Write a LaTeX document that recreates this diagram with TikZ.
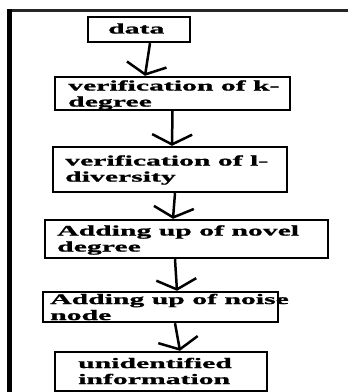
\documentclass[tikz,border=0pt]{standalone}
\usepackage{fontspec}
\usetikzlibrary{arrows.meta}
\newfontfamily\bx[FakeStretch=2.05,FakeBold=1.2]{Liberation Serif Bold}
\begin{document}
\begin{tikzpicture}[x=1pt,y=-1pt,
  box/.style={draw=black, line width=2.4pt, fill=white, inner sep=0pt},
  txt/.style={anchor=west, inner sep=0pt, align=left, font=\bx\fontsize{14.5}{16}\selectfont},
  arr/.style={line width=2.5pt, -{Straight Barb[length=10pt,width=40pt,line width=2.5pt]}}]
\useasboundingbox (0,0) rectangle (348,392);
\fill[white] (0,0) rectangle (348,392);
% outer frame
\draw[line width=2.3pt, black!85] (7,10.5) -- (348,10.5);
\draw[line width=5pt] (9.2,9.4) -- (9.2,392);
% boxes
\node[box, minimum width=102pt, minimum height=25pt] (b1) at (139,29.5) {};
\node[box, minimum width=235pt, minimum height=33pt] (b2) at (172.5,93.5) {};
\node[box, minimum width=234pt, minimum height=45pt] (b3) at (170,169.5) {};
\node[box, minimum width=283pt, minimum height=38pt] (b4) at (186.5,239) {};
\node[box, minimum width=235pt, minimum height=30pt] (b5) at (160.5,307) {};
\node[box, minimum width=212pt, minimum height=39pt] (b6) at (161,371.5) {};
% texts
\node[txt] (t1) at (108,28.5) {data};
\node[txt] (t2) at (68,95) {verification of k-\\degree};
\node[txt] (t3) at (65,170) {verification of l-\\diversity};
\node[txt] (t4) at (57,240) {Adding up of novel\\degree};
\node[txt] (t5) at (50,307) {Adding up of noise\\node};
\node[txt] (t6) at (78,371) {unidentified\\information};
% arrows
\draw[arr] ([xshift=11pt]b1.south) -- ([xshift=-27.5pt]b2.north);
\draw[arr] ([xshift=0pt]b2.south) -- ([xshift=2pt]b3.north);
\draw[arr] ([xshift=5pt]b3.south) -- ([xshift=-13.5pt]b4.north);
\draw[arr] ([xshift=-11.5pt]b4.south) -- ([xshift=16.5pt]b5.north);
\draw[arr] ([xshift=14.5pt]b5.south) -- ([xshift=19pt]b6.north);
\end{tikzpicture}
\end{document}
